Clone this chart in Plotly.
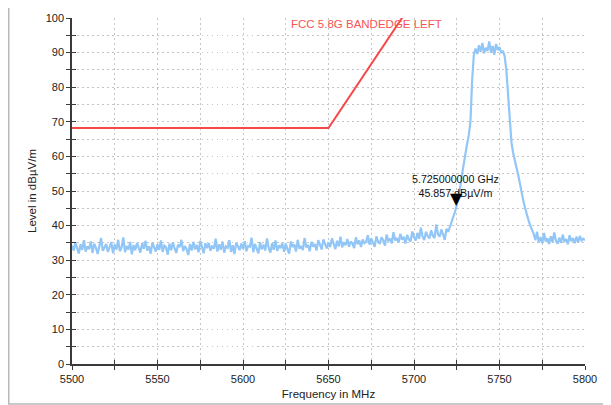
import plotly.graph_objects as go

# ---- data ----
freq_start = 5500
freq_step = 1
level = [
    34.2, 32.8, 35.1, 33.4, 31.9, 34.6, 33.0, 35.8, 32.5, 34.0,
    33.2, 35.4, 32.1, 34.8, 33.6, 31.8, 34.3, 36.4, 32.7, 33.9,
    34.7, 32.4, 33.8, 35.2, 32.0, 34.5, 33.1, 35.9, 32.6, 33.7,
    36.6, 32.3, 34.1, 33.0, 35.3, 31.7, 34.4, 32.9, 35.0, 33.5,
    32.2, 34.9, 33.3, 35.6, 32.8, 34.0, 31.9, 35.1, 33.6, 32.5,
    34.6, 33.0, 35.7, 32.4, 34.2, 33.7, 31.6, 34.8, 32.9, 35.2,
    33.4, 32.1, 34.5, 33.8, 35.9, 32.6, 34.1, 33.2, 31.5, 34.7,
    32.8, 35.3, 33.1, 34.4, 32.3, 35.6, 33.9, 32.0, 34.9, 33.5,
    35.0, 32.7, 34.2, 33.3, 36.2, 32.5, 34.6, 33.0, 35.4, 32.2,
    34.0, 33.6, 35.8, 32.4, 34.3, 31.8, 35.1, 33.7, 32.9, 34.8,
    33.2, 35.5, 32.6, 34.1, 33.9, 36.5, 32.3, 34.7, 33.4, 32.0,
    35.2, 33.1, 34.5, 32.8, 36.3, 33.6, 32.2, 34.9, 33.0, 35.7,
    32.7, 34.3, 33.5, 35.0, 32.4, 34.8, 33.2, 31.9, 35.4, 33.8,
    34.6, 32.5, 35.9, 33.3, 34.1, 32.9, 36.4, 33.7, 34.4, 32.6,
    35.3, 33.9, 34.7, 32.8, 35.8, 34.2, 33.1, 36.0, 34.5, 33.4,
    35.1, 33.8, 36.3, 34.4, 33.2, 35.6, 34.0, 36.8, 33.7, 35.2,
    34.3, 36.1, 33.9, 35.4, 34.8, 33.5, 36.6, 34.6, 35.7, 33.8,
    36.0, 34.9, 35.3, 37.2, 34.5, 36.3, 35.0, 33.9, 36.9, 35.4,
    34.7, 36.6, 35.8, 34.2, 37.4, 35.5, 36.2, 34.9, 38.1, 35.7,
    36.4, 35.1, 37.6, 35.9, 36.8, 34.8, 37.3, 36.0, 35.4, 38.3,
    36.6, 35.7, 37.9, 36.2, 39.4, 36.9, 35.8, 38.2, 37.0, 36.3,
    38.6, 37.1, 36.4, 40.3, 37.5, 36.8, 38.9, 37.3, 35.9, 39.1,
    38.2, 39.6, 41.0, 42.3, 44.0, 45.857, 48.0, 51.0, 54.5, 58.0,
    61.0, 63.5, 66.0, 70.0, 82.0, 89.5, 91.2, 89.6, 92.1, 90.2,
    92.8, 89.8, 91.4, 90.5, 93.2, 90.0, 91.9, 89.4, 92.5, 90.7,
    91.6, 89.9, 90.5, 89.0, 85.0, 77.0, 68.5, 64.0, 61.0, 59.0,
    57.0, 54.5, 52.0, 49.0, 47.0, 45.0, 43.0, 41.5, 40.0, 38.9,
    37.6, 35.8, 38.2, 35.1, 36.7, 34.9, 37.9, 35.4, 36.3, 34.7,
    36.9, 35.2, 38.0, 35.6, 34.8, 36.5, 35.0, 37.4, 35.3, 36.1,
    34.6, 37.2, 35.5, 36.4, 34.9, 36.8, 35.1, 37.0, 35.7, 36.2,
    35.8,
]
freq = [freq_start + i * freq_step for i in range(len(level))]

limit_freq = [5500, 5650, 5700, 5720, 5725]
limit_level = [68.2, 68.2, 105.2, 110.8, 122.2]
limit_name = "FCC 5.8G BANDEDGE LEFT"

marker_freq = 5725
marker_level = 45.857
marker_text = "5.725000000 GHz<br>45.857 dBµV/m"

x_range = [5500, 5800]
y_range = [0, 100]

FONT = "Liberation Sans, Arial, sans-serif"
GRID = "#c4c4c4"
GDASH = "1.5px,3.5px"
AX = "#3a3a3a"

fig = go.Figure()
fig.add_trace(go.Scatter(x=freq, y=level, mode="lines",
                         line=dict(color="#92c6f7", width=2.2),
                         showlegend=False, hoverinfo="skip"))
fig.add_trace(go.Scatter(x=limit_freq, y=limit_level, mode="lines",
                         line=dict(color="#f64848", width=2),
                         showlegend=False, hoverinfo="skip"))

# annotations
fig.add_annotation(x=5672.5, y=98.3, text=limit_name, showarrow=False,
                   font=dict(family=FONT, size=11.5, color="#f65454"),
                   xanchor="center", yanchor="middle")
fig.add_annotation(x=marker_freq, y=marker_level, text="▼", showarrow=False,
                   font=dict(family="DejaVu Sans", size=16, color="#000000"),
                   xanchor="center", yanchor="bottom", yshift=-5)
fig.add_annotation(x=marker_freq, y=marker_level, text=marker_text, showarrow=False,
                   font=dict(family=FONT, size=10.7, color="#111111"),
                   xanchor="center", yanchor="bottom", yshift=4, xshift=-1)

# outer frame (page body offsets the figure by 8px)
fig.add_shape(type="rect", xref="paper", yref="paper",
              x0=-0.1233, x1=1.041, y0=-0.1156, y1=1.06,
              line=dict(color="#b8b8b8", width=1.5), layer="below")

common_tick = dict(family=FONT, size=11, color="#222222")

fig.update_layout(
    width=603, height=397,
    margin=dict(l=64, r=26, t=10, b=41, autoexpand=False),
    paper_bgcolor="white", plot_bgcolor="white",
    font=dict(family=FONT, size=11, color="#222222"),
    xaxis=dict(range=x_range, dtick=50, tick0=5500, automargin=False,
               showgrid=True, gridcolor=GRID, griddash=GDASH, gridwidth=1,
               minor=dict(dtick=25, showgrid=True, gridcolor=GRID, griddash=GDASH,
                          ticks="outside", ticklen=4, tickcolor=AX, tickwidth=1.2),
               ticks="outside", ticklen=4, tickcolor=AX, tickwidth=1.2,
               showline=True, linecolor=AX, linewidth=1.5,
               zeroline=False, tickfont=common_tick,
               title=dict(text="Frequency in MHz", font=dict(family=FONT, size=11.5), standoff=6)),
    yaxis=dict(range=y_range, dtick=10, tick0=0, automargin=False,
               showgrid=True, gridcolor=GRID, griddash=GDASH, gridwidth=1,
               minor=dict(dtick=5, showgrid=True, gridcolor=GRID, griddash=GDASH,
                          ticks="outside", ticklen=4, tickcolor=AX, tickwidth=1.2),
               ticks="outside", ticklen=4, tickcolor=AX, tickwidth=1.2,
               showline=True, linecolor=AX, linewidth=1.5,
               zeroline=False, tickfont=common_tick,
               title=dict(text="Level in dBµV/m", font=dict(family=FONT, size=11.5), standoff=7)),
    xaxis2=dict(overlaying="x", matches="x", anchor="y", side="bottom", range=x_range,
                dtick=25, tick0=5500, ticks="inside", ticklen=4, tickcolor=AX, tickwidth=1.2,
                showticklabels=False, showgrid=False, zeroline=False, showline=False,
                automargin=False),
    yaxis2=dict(overlaying="y", matches="y", anchor="x", side="left", range=y_range,
                dtick=5, tick0=0, ticks="inside", ticklen=4, tickcolor=AX, tickwidth=1.2,
                showticklabels=False, showgrid=False, zeroline=False, showline=False,
                automargin=False),
)
fig.add_trace(go.Scatter(x=[None], y=[None], xaxis="x2", yaxis="y2",
                         showlegend=False, hoverinfo="skip"))

fig.write_html("out.html")
